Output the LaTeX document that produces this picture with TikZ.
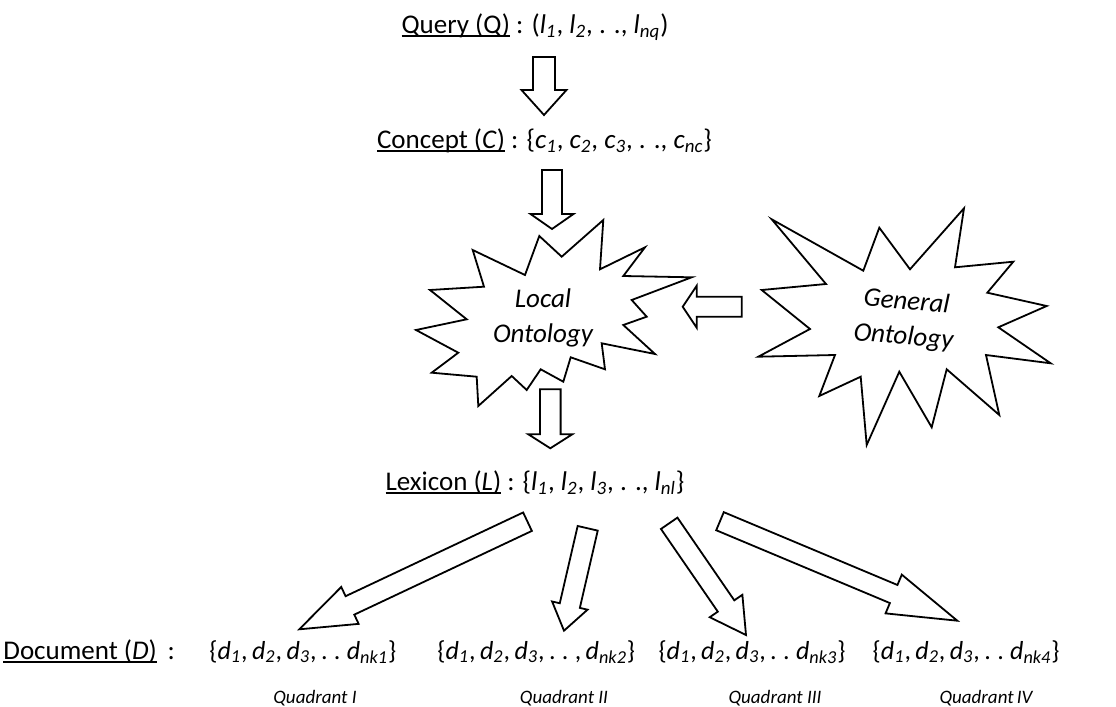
\documentclass[tikz,border=0pt]{standalone}
\usepackage{fontspec}
\setmainfont{Carlito}
\usetikzlibrary{calc}
\tikzset{
  rand/.style     = {inner sep=0pt, anchor=base, font=\fontsize{13.5}{16}\selectfont},
  multime/.style  = {inner sep=0pt, anchor=base, font=\fontsize{13}{16}\selectfont,
                     execute at begin node={\spaceskip=2.2pt\relax}},
  cadran/.style   = {inner sep=0pt, anchor=base, font=\fontsize{9.5}{11}\selectfont\itshape},
  stea/.style     = {draw, line width=0.9pt, line join=miter},
  textstea/.style = {align=center, inner sep=0pt, font=\fontsize{13.5}{17.5}\selectfont\itshape},
  sagbloc/.style  = {draw, line width=0.9pt, fill=white}
}
\newcommand{\isub}[2]{\textit{#1}\textsubscript{\textit{#2}}}
\newsavebox{\sublinbox}
\newcommand{\sublin}[1]{\sbox\sublinbox{#1}\rlap{\rule[-1.9pt]{\wd\sublinbox}{0.75pt}}\usebox\sublinbox}
% block arrow: from, to, half shaft, half head, head length
\newcommand{\blocsag}[5]{%
  \coordinate (bs) at (#1);
  \coordinate (bt) at (#2);
  \coordinate (bh) at ($(bt)!#5!(bs)$);
  \draw[sagbloc] ($(bs)!#3!90:(bt)$) -- ($(bh)!#3!90:(bt)$) -- ($(bh)!#4!90:(bt)$) -- (bt)
    -- ($(bh)!#4!-90:(bt)$) -- ($(bh)!#3!-90:(bt)$) -- ($(bs)!#3!-90:(bt)$) -- cycle;
}
\begin{document}
\begin{tikzpicture}[x=0.5pt, y=-0.5pt]
        \useasboundingbox (0,0) rectangle (1116,707);

        % the rows of text
        \node[rand] (query) at (535,33) {\sublin{Query (Q)} : (\isub{l}{1}, \isub{l}{2}, . ., \isub{l}{nq})};
        \node[rand] (concept) at (544.5,148) {\sublin{Concept (\textit{C})} : \{\isub{c}{1}, \isub{c}{2}, \isub{c}{3}, . ., \isub{c}{nc}\}};
        \node[rand] (lexicon) at (535,490) {\sublin{Lexicon (\textit{L})} : \{\isub{l}{1}, \isub{l}{2}, \isub{l}{3}, . ., \isub{l}{nl}\}};
        \node[rand, anchor=base west] (document) at (3,659) {\sublin{Document (\textit{D})}\, :};

        \node[multime, anchor=base west] (set1) at (209,659) {\{\isub{d}{1}, \isub{d}{2}, \isub{d}{3}, . . \isub{d}{nk1}\}};
        \node[multime, anchor=base west] (set2) at (437,659) {\{\isub{d}{1}, \isub{d}{2}, \isub{d}{3}, . . , \isub{d}{nk2}\}};
        \node[multime] (set3) at (752,659) {\{\isub{d}{1}, \isub{d}{2}, \isub{d}{3}, . . \isub{d}{nk3}\}};
        \node[multime, anchor=base east] (set4) at (1060,659) {\{\isub{d}{1}, \isub{d}{2}, \isub{d}{3}, . . \isub{d}{nk4}\}};

        \node[cadran] (quad1) at (315,703) {Quadrant I};
        \node[cadran] (quad2) at (564,703) {Quadrant II};
        \node[cadran] (quad3) at (775,703) {Quadrant III};
        \node[cadran] (quad4) at (986,703) {Quadrant\,IV};

        % the two stars
        \draw[stea] (539.3,236) -- (561.7,256.7) -- (603.3,220) -- (600,269.3) -- (645,247.3)
            -- (623.3,276) -- (691.7,277.3) -- (631.7,300) -- (646.7,316.7) -- (623.3,325)
            -- (655,354) -- (601.7,343.3) -- (605,369.3) -- (570.7,357.3) -- (563.3,381.7)
            -- (540.7,369.3) -- (526.7,390) -- (511.7,376) -- (478.3,406) -- (476.7,376.7)
            -- (431.7,372.7) -- (458.3,352.7) -- (416,330) -- (466.7,319.3) -- (430,290)
            -- (484,286.7) -- (472.7,250) -- (525,275) -- cycle;
        \node[textstea] (local) at (543,318) {Local\\Ontology};

        \draw[stea] (964,208.3) -- (955,267.3) -- (1013.3,261.7) -- (987.3,292.7) -- (1046.7,306)
            -- (998.3,327.3) -- (1050.7,363.3) -- (986,355) -- (999.3,415) -- (946.7,369.3)
            -- (931.7,427.3) -- (899.3,371.7) -- (866.7,445) -- (860.7,376.7) -- (819.3,396)
            -- (835,355) -- (758.3,356.7) -- (810,329) -- (761.7,290) -- (826,284)
            -- (771.7,219.3) -- (863.3,270.7) -- (879.3,227.7) -- (910,269.3) -- cycle;
        \node[textstea, rotate=-5] (general) at (905,320) {General\\Ontology};

        % arrow ends
        \coordinate (q-s) at (544,57);      \coordinate (q-t) at (544,115);
        \coordinate (c-s) at (552,170);     \coordinate (c-t) at (552,229);
        \coordinate (l-s) at (550.3,389.3); \coordinate (l-t) at (550.3,448.3);
        \coordinate (g-s) at (741.7,306.7); \coordinate (g-t) at (682.7,306.7);
        \coordinate (d1-s) at (527.5,521.7); \coordinate (d1-t) at (299.3,629.3);
        \coordinate (d2-s) at (587.7,528.3); \coordinate (d2-t) at (564,630.7);
        \coordinate (d3-s) at (669.2,523.3); \coordinate (d3-t) at (746,635);
        \coordinate (d4-s) at (720,521.2);   \coordinate (d4-t) at (957.3,620.7);

        \blocsag{q-s}{q-t}{5.5pt}{11.25pt}{12.5pt}
        \blocsag{c-s}{c-t}{5pt}{10.75pt}{7.5pt}
        \blocsag{l-s}{l-t}{5.15pt}{11pt}{7pt}
        \blocsag{g-s}{g-t}{5pt}{10.5pt}{7pt}
        \blocsag{d1-s}{d1-t}{5.1pt}{10.2pt}{28pt}
        \blocsag{d2-s}{d2-t}{5.15pt}{9.1pt}{12.9pt}
        \blocsag{d3-s}{d3-t}{5pt}{9.9pt}{17.6pt}
        \blocsag{d4-s}{d4-t}{4.9pt}{10.5pt}{34.5pt}
    \end{tikzpicture}
\end{document}
